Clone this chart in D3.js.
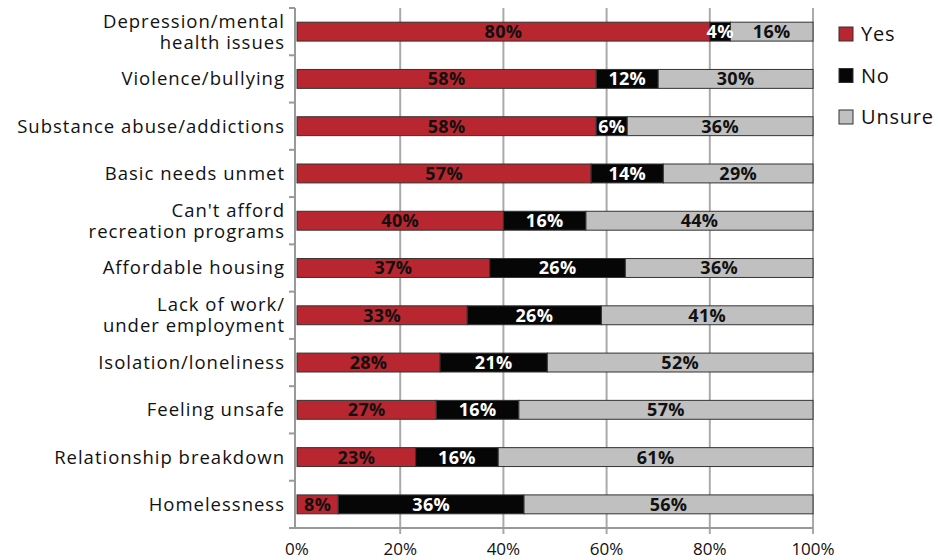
<!DOCTYPE html>
<html><head><meta charset="utf-8">
<script src="https://cdn.jsdelivr.net/npm/d3@7"></script>
<style>body{margin:0;background:#fff}svg{display:block}text{font-family:"Open Sans",sans-serif}</style>
</head><body><svg id="c" width="952" height="560"></svg>
<script>
const categories = [
  ["Depression/mental","health issues"],
  ["Violence/bullying"],
  ["Substance abuse/addictions"],
  ["Basic needs unmet"],
  ["Can't afford","recreation programs"],
  ["Affordable housing"],
  ["Lack of work/","under employment"],
  ["Isolation/loneliness"],
  ["Feeling unsafe"],
  ["Relationship breakdown"],
  ["Homelessness"]
];
const yesValues    = [80,58,58,57,40,37,33,28,27,23,8];
const noValues     = [4,12,6,14,16,26,26,21,16,16,36];
const unsureValues = [16,30,36,29,44,36,41,52,57,61,56];
const seriesNames = ["Yes","No","Unsure"];
const xTicks = [0,20,40,60,80,100];

const colors = {Yes:"#b8272f", No:"#060606", Unsure:"#c0c0c0"};
const labelColors = {Yes:"#111", No:"#fff", Unsure:"#111"};

const svg = d3.select("#c");
const m = {l:297, r:813, t:8, b:528};
const ids = categories.map((d,i)=>i);
const x = d3.scaleLinear().domain([0,100]).range([m.l,m.r]);
const y = d3.scaleBand().domain(ids).range([m.t,m.b]).paddingInner(0.6).paddingOuter(0.3);
const yb = d3.scaleBand().domain(ids).range([m.t,m.b]);

// grid
svg.append("g").selectAll("line").data(xTicks.slice(1)).join("line")
  .attr("x1",d=>x(d)).attr("x2",d=>x(d)).attr("y1",m.t).attr("y2",m.b+6)
  .attr("stroke","#aaa").attr("stroke-width",2);

// data rows
const rows = ids.map(i=>{
  const vals=[yesValues[i],noValues[i],unsureValues[i]];
  const tot=d3.sum(vals); let c=0;
  return vals.map((v,k)=>{const s=c; c+=v; return {i,k,name:seriesNames[k],v,x0:s/tot*100,x1:c/tot*100};});
}).flat();

svg.append("g").selectAll("rect").data(rows).join("rect")
  .attr("x",d=>x(d.x0)).attr("width",d=>x(d.x1)-x(d.x0))
  .attr("y",d=>y(d.i)).attr("height",y.bandwidth())
  .attr("fill",d=>colors[d.name]).attr("stroke","#333").attr("stroke-width",1);

svg.append("g").selectAll("text").data(rows).join("text")
  .attr("x",d=>(x(d.x0)+x(d.x1))/2).attr("y",d=>y(d.i)+y.bandwidth()/2)
  .attr("dy","0.36em").attr("text-anchor","middle")
  .attr("font-size",18).attr("font-weight","bold").attr("letter-spacing","0.3")
  .attr("fill",d=>labelColors[d.name]).text(d=>d.v+"%");

// y axis
svg.append("line").attr("x1",m.l-2).attr("x2",m.l-2).attr("y1",m.t).attr("y2",m.b)
  .attr("stroke","#999").attr("stroke-width",2);
svg.append("g").selectAll("line").data(d3.range(categories.length+1)).join("line")
  .attr("x1",m.l-8).attr("x2",m.l-2)
  .attr("y1",d=>m.t+d*yb.step()).attr("y2",d=>m.t+d*yb.step())
  .attr("stroke","#999").attr("stroke-width",2);
// x axis
svg.append("line").attr("x1",m.l-2).attr("x2",m.r).attr("y1",m.b).attr("y2",m.b)
  .attr("stroke","#999").attr("stroke-width",2);
svg.append("g").selectAll("text").data(xTicks).join("text")
  .attr("x",d=>x(d)).attr("y",555).attr("text-anchor","middle")
  .attr("font-size",17).attr("fill","#111").text(d=>d+"%");

// category labels
const cl = svg.append("g").selectAll("text").data(ids).join("text")
  .attr("text-anchor","end").attr("font-size",18.5).attr("letter-spacing","1")
  .attr("fill","#111");
cl.each(function(i){
  const lines=categories[i]; const cy=yb(i)+yb.bandwidth()/2;
  const t=d3.select(this);
  lines.forEach((ln,j)=>{
    t.append("tspan").attr("x",285).attr("y",cy+(j-(lines.length-1)/2)*21).attr("dy","0.35em").text(ln);
  });
});

// legend
const lg = svg.append("g").selectAll("g").data(seriesNames).join("g")
  .attr("transform",(d,k)=>`translate(839,${34+k*41.5})`);
lg.append("rect").attr("x",0).attr("y",-7).attr("width",14).attr("height",14)
  .attr("fill",d=>colors[d]).attr("stroke","#333").attr("stroke-width",1);
lg.append("text").attr("x",22).attr("dy","0.36em").attr("font-size",20).attr("letter-spacing","0.8")
  .attr("fill","#111").text(d=>d);
</script></body></html>
